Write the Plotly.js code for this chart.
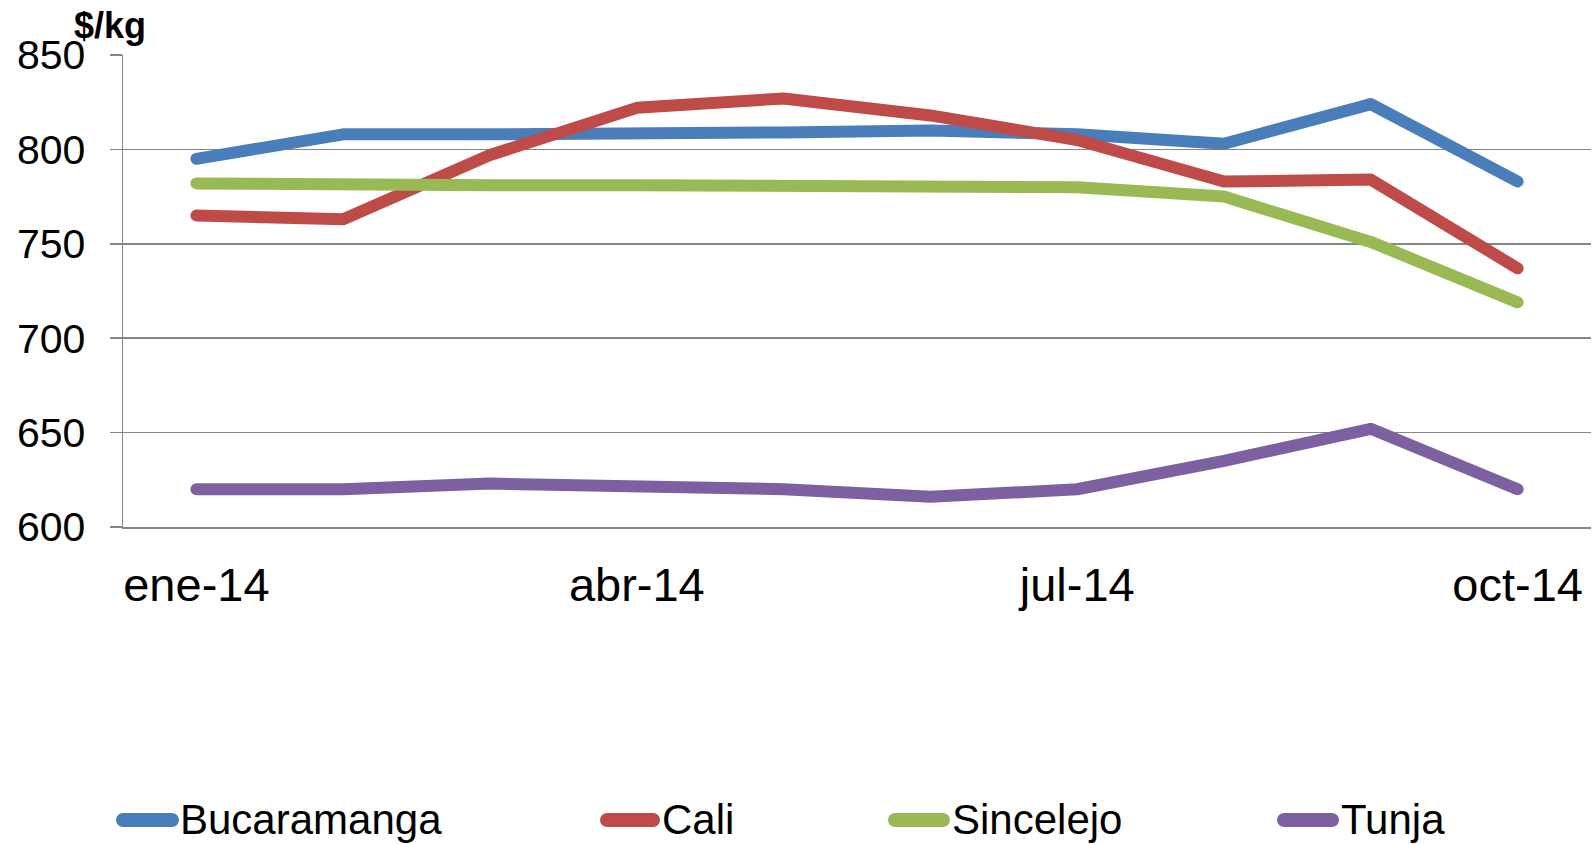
<!DOCTYPE html>
<html>
<head>
<meta charset="utf-8">
<script src="https://cdn.plot.ly/plotly-3.0.1.min.js"></script>
<style>
html,body{margin:0;padding:0;background:#fff;}
#chart{width:1593px;height:844px;}
#chart .scatterlayer path.js-line{stroke-linecap:round;stroke-linejoin:round;}
#chart .shapelayer path{stroke-linecap:round;}
</style>
</head>
<body>
<div id="chart"></div>
<script>
const months = ["ene-14","feb-14","mar-14","abr-14","may-14","jun-14","jul-14","ago-14","sep-14","oct-14"];
const tickLabels = ["ene-14","abr-14","jul-14","oct-14"];
const bucaramanga = [795, 808, 808, 808, 809, 810, 808, 803, 824, 783];
const cali        = [765, 763, 797, 822, 827, 818, 805, 783, 784, 737];
const sincelejo   = [782, 781, 781, 781, 781, 781, 780, 775, 751, 719];
const tunja       = [620, 620, 623, 622, 620, 616, 620, 635, 652, 620];

const seriesNames = ["Bucaramanga","Cali","Sincelejo","Tunja"];
const seriesData = [bucaramanga, cali, sincelejo, tunja];
const colors = ["#4A7EBB","#BE4B48","#98B954","#7D60A0"];

// plot area geometry (pixels)
const PL = 123, PR = 1591, PT = 55, PB = 527;
const px2x = p => (p - PL) / (PR - PL);
const px2y = p => (PB - p) / (PB - PT);
// custom legend positions (symbol start, symbol end, text start) in pixels
const legendPos = [[123, 172, 180], [607, 653, 662], [895, 943, 952], [1284, 1332, 1341]];
const legendY = 819;

const traces = seriesData.map((vals, i) => ({
  type: "scatter",
  mode: "lines",
  name: seriesNames[i],
  x: months,
  y: vals,
  line: {color: colors[i], width: 12},
  showlegend: false
}));

const ff = "Liberation Sans, Arial, sans-serif";
const shapes = [];
const annotations = [{
  text: "<b>$/kg</b>", xref: "paper", yref: "paper",
  x: px2x(72), y: px2y(25.5), xanchor: "left", yanchor: "middle",
  showarrow: false, font: {size: 36, family: ff, color: "#000"}
}];
seriesNames.forEach((name, i) => {
  const [s0, s1, t0] = legendPos[i];
  shapes.push({
    type: "line", xref: "paper", yref: "paper",
    x0: px2x(s0), x1: px2x(s1), y0: px2y(legendY + 1), y1: px2y(legendY + 1),
    line: {color: colors[i], width: 14}
  });
  annotations.push({
    text: name, xref: "paper", yref: "paper",
    x: px2x(t0 - 2), y: px2y(legendY), xanchor: "left", yanchor: "middle",
    showarrow: false, font: {size: 42, family: ff, color: "#000"}
  });
});

const layout = {
  width: 1593, height: 844,
  margin: {l: PL, r: 1593 - PR, t: PT, b: 844 - PB, autoexpand: false},
  paper_bgcolor: "#fff", plot_bgcolor: "#fff",
  font: {family: ff, color: "#000"},
  showlegend: false,
  xaxis: {
    type: "category",
    categoryorder: "array", categoryarray: months,
    range: [-0.5, 9.5],
    tickmode: "array", tickvals: tickLabels, ticktext: tickLabels,
    tickfont: {size: 47, family: ff, color: "#000"},
    showgrid: false, zeroline: false,
    showline: true, linecolor: "#868686", linewidth: 1.5,
    ticks: "", ticklabelstandoff: 16
  },
  yaxis: {
    range: [600, 850], dtick: 50, tick0: 600,
    tickfont: {size: 41, family: ff, color: "#000"},
    showgrid: true, gridcolor: "#868686", gridwidth: 1.5,
    zeroline: false,
    showline: true, linecolor: "#868686", linewidth: 1.5,
    ticks: "outside", ticklen: 12, tickcolor: "#868686", tickwidth: 1.5,
    ticklabelstandoff: 16
  },
  shapes: shapes,
  annotations: annotations
};

Plotly.newPlot("chart", traces, layout, {displayModeBar: false, staticPlot: true});
</script>
</body>
</html>
